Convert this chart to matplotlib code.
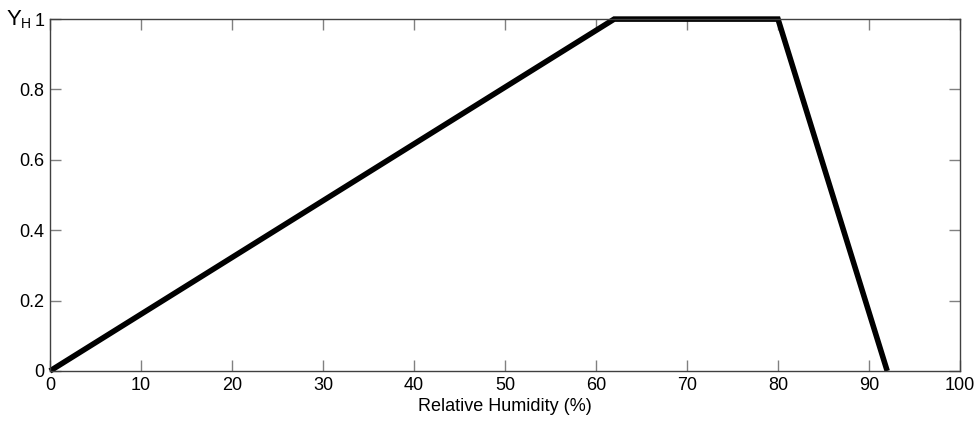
import matplotlib
matplotlib.use('Agg')
import matplotlib.pyplot as plt

humidity = [0, 62, 80, 92]
membership = [0, 1, 1, 0]
x_ticks = [0, 10, 20, 30, 40, 50, 60, 70, 80, 90, 100]
y_ticks = [0, 0.2, 0.4, 0.6, 0.8, 1]
y_tick_labels = ['0', '0.2', '0.4', '0.6', '0.8', '1']

plt.rcParams['font.family'] = ['Liberation Sans', 'DejaVu Sans']

fig = plt.figure(figsize=(9.78, 4.34), dpi=100)
ax = fig.add_axes([0.0511, 0.1452, 0.9305, 0.8108])

ax.plot(humidity, membership, color='black', linewidth=4, solid_capstyle='butt',
        solid_joinstyle='miter', clip_on=False)
ax.set_xlim(0, 100)
ax.set_ylim(0, 1)
ax.set_xticks(x_ticks)
ax.set_yticks(y_ticks)
ax.set_yticklabels(y_tick_labels)
ax.tick_params(direction='in', length=8, width=1, color='#808080',
               top=True, right=True, labelsize=13, pad=4)
for s in ax.spines.values():
    s.set_color('#404040')
    s.set_linewidth(1)

ax.set_xlabel('Relative Humidity (%)', fontsize=13, labelpad=3)
# Y_H label placed like MATLAB's, left of the "1" tick label
fig.text(0.007, 0.942, 'Y', fontsize=16, ha='left', va='baseline')
fig.text(0.021, 0.935, 'H', fontsize=10, ha='left', va='baseline')

fig.savefig('out.png', dpi=100)
